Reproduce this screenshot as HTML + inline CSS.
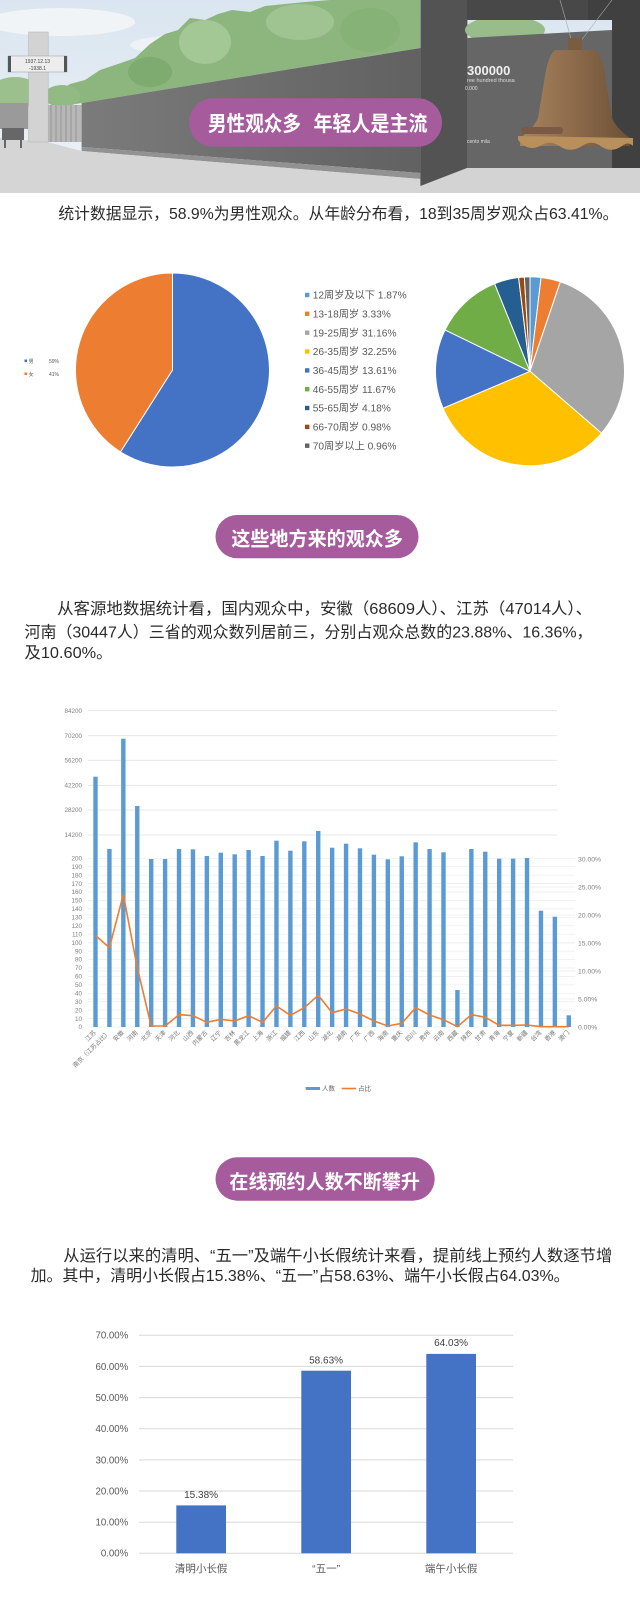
<!DOCTYPE html>
<html><head><meta charset="utf-8"><style>
html,body{margin:0;padding:0;background:#fff;}
svg{display:block;}
text{font-family:"Liberation Sans","Noto Sans CJK SC",sans-serif;}
</style></head><body>
<svg width="640" height="1600" viewBox="0 0 640 1600" xmlns="http://www.w3.org/2000/svg">
<defs>
<linearGradient id="sky" x1="0" y1="0" x2="0" y2="1"><stop offset="0" stop-color="#d9e5f0"/><stop offset="1" stop-color="#eef2f5"/></linearGradient>
<linearGradient id="wall" x1="0" y1="0" x2="1" y2="0"><stop offset="0" stop-color="#7b7b7b"/><stop offset="1" stop-color="#616161"/></linearGradient>
<linearGradient id="bell" x1="0" y1="0" x2="1" y2="0"><stop offset="0" stop-color="#a7845f"/><stop offset="0.5" stop-color="#8c6a4a"/><stop offset="1" stop-color="#6c5036"/></linearGradient>
</defs>
<rect width="640" height="1600" fill="#fff"/>

<!-- HEADER PHOTO -->
<rect x="0" y="0" width="640" height="193" fill="url(#sky)"/>
<ellipse cx="60" cy="22" rx="75" ry="14" fill="#f3f6f8" opacity="0.85"/>
<ellipse cx="190" cy="45" rx="60" ry="10" fill="#f1f4f7" opacity="0.8"/>
<polygon points="53,108 58,92 70,84 85,80 100,70 118,64 135,58 150,44 165,34 178,30 190,18 205,20 218,14 232,10 250,12 265,6 285,4 305,2 330,0 420,0 420,48 81.6,103" fill="#8db67e"/>
<ellipse cx="205" cy="42" rx="26" ry="22" fill="#a3c795"/>
<ellipse cx="300" cy="22" rx="34" ry="18" fill="#9fc391"/>
<ellipse cx="150" cy="72" rx="22" ry="15" fill="#7eab70"/>
<ellipse cx="370" cy="30" rx="30" ry="22" fill="#86b177"/>
<ellipse cx="15" cy="93" rx="26" ry="16" fill="#9cc08d"/>
<ellipse cx="62" cy="96" rx="18" ry="11" fill="#93ba85"/>
<rect x="0" y="103" width="28" height="26" fill="#9a9a9a"/>
<polygon points="81.6,103 420.4,48 420.4,173 81.6,147" fill="url(#wall)"/>
<rect x="47" y="105" width="34.6" height="37" fill="#b7b7b7"/>
<g stroke="#8e8e8e" stroke-width="0.8"><line x1="51" y1="105" x2="51" y2="142"/><line x1="56" y1="105" x2="56" y2="142"/><line x1="61" y1="105" x2="61" y2="142"/><line x1="66" y1="105" x2="66" y2="142"/><line x1="71" y1="105" x2="71" y2="142"/><line x1="76" y1="105" x2="76" y2="142"/></g>
<polygon points="81.6,147 420.4,173 420.4,179 81.6,151" fill="#929292"/>
<polygon points="0,138 47,142 81.6,151 420.4,179 420.4,193 0,193" fill="#d5d5d5"/>
<rect x="2" y="128" width="22" height="12" fill="#676767"/>
<rect x="4" y="140" width="2" height="8" fill="#676767"/><rect x="20" y="140" width="2" height="8" fill="#676767"/>
<rect x="28.6" y="32" width="19.6" height="110" fill="#d3d3d3" stroke="#b0b0b0" stroke-width="0.5"/>
<rect x="8" y="56" width="59" height="16" fill="#ededed" stroke="#999" stroke-width="0.5"/>
<rect x="8" y="56" width="3" height="16" fill="#555"/><rect x="64" y="56" width="3" height="16" fill="#555"/>
<text x="37.5" y="63" font-size="5" fill="#444" text-anchor="middle">1937.12.13</text>
<text x="37.5" y="70" font-size="5" fill="#444" text-anchor="middle">-1938.1</text>
<rect x="420.4" y="0" width="47" height="186" fill="#535353"/>
<ellipse cx="505" cy="30" rx="40" ry="14" fill="#98bd8a"/>
<rect x="467" y="0" width="125" height="20" fill="#484848"/>
<polygon points="467,38 612,30 612,168 467,170" fill="#666"/>
<rect x="612" y="0" width="28" height="170" fill="#404040"/>
<rect x="588" y="0" width="24" height="20" fill="#404040"/>
<polygon points="420.4,186 467,168 640,168 640,193 420.4,193" fill="#d3d3d3"/>
<line x1="560" y1="0" x2="572" y2="42" stroke="#aaa" stroke-width="0.6"/>
<line x1="612" y1="0" x2="580" y2="42" stroke="#aaa" stroke-width="0.6"/>
<rect x="568" y="38" width="14" height="14" fill="#7a5c40"/>
<path d="M556,50 L594,50 Q600,52 604,70 L612,118 Q616,128 630,138 L630,146 L520,146 L520,138 Q534,128 538,118 L546,70 Q550,52 556,50 Z" fill="url(#bell)"/>
<path d="M518,140 Q528,152 540,146 Q550,139 561,147 Q571,153 582,146 Q592,139 602,147 Q612,153 622,146 Q628,141 633,146 L633,138 L518,136 Z" fill="#b98f5c"/>
<rect x="521" y="127" width="42" height="7" rx="3" fill="#7b5a45"/>
<text x="467" y="75" font-size="13" font-weight="bold" fill="#efefef">300000</text>
<text x="467" y="82" font-size="5.5" fill="#ddd">ree hundred  thousa</text>
<text x="465" y="90" font-size="5" fill="#ddd">0.000</text>
<text x="467" y="143" font-size="5" fill="#ddd">cento mila</text>

<!-- PILL 1 -->
<rect x="189" y="98.3" width="253" height="48.4" rx="24.2" fill="#a65b9d"/>
<text x="208" y="131" font-size="21" font-weight="bold" fill="#fff" textLength="93" lengthAdjust="spacingAndGlyphs">男性观众多</text>
<text x="313.5" y="131" font-size="21" font-weight="bold" fill="#fff" textLength="114" lengthAdjust="spacingAndGlyphs">年轻人是主流</text>

<text x="58.4" y="219" font-size="16" fill="#2a2a2a" textLength="560" lengthAdjust="spacingAndGlyphs">统计数据显示，58.9%为男性观众。从年龄分布看，18到35周岁观众占63.41%。</text>

<!-- PIE 1 -->
<g stroke="#fff" stroke-width="1" stroke-linejoin="round">
<path d="M172.5,370 L172.5,273 A97,97 0 1 1 120.5,451.9 Z" fill="#4472C4"/>
<path d="M172.5,370 L120.5,451.9 A97,97 0 0 1 172.5,273 Z" fill="#ED7D31"/>
</g>
<rect x="24.5" y="359.5" width="2.6" height="2.6" fill="#4472C4"/>
<text x="28.6" y="362.8" font-size="5" fill="#555">男</text><text x="49" y="362.8" font-size="5" fill="#555">59%</text>
<rect x="24.5" y="372.5" width="2.6" height="2.6" fill="#ED7D31"/>
<text x="28.6" y="375.8" font-size="5" fill="#555">女</text><text x="49" y="375.8" font-size="5" fill="#555">41%</text>

<!-- PIE 2 legend -->
<g font-size="10.2" fill="#595959">
<rect x="305" y="292.8" width="4.4" height="4.4" fill="#5B9BD5"/><text x="312.7" y="298.6">12周岁及以下  1.87%</text>
<rect x="305" y="311.6" width="4.4" height="4.4" fill="#ED7D31"/><text x="312.7" y="317.4">13-18周岁  3.33%</text>
<rect x="305" y="330.5" width="4.4" height="4.4" fill="#A5A5A5"/><text x="312.7" y="336.3">19-25周岁  31.16%</text>
<rect x="305" y="349.3" width="4.4" height="4.4" fill="#FFC000"/><text x="312.7" y="355.1">26-35周岁  32.25%</text>
<rect x="305" y="368.2" width="4.4" height="4.4" fill="#4472C4"/><text x="312.7" y="374">36-45周岁  13.61%</text>
<rect x="305" y="387" width="4.4" height="4.4" fill="#70AD47"/><text x="312.7" y="392.8">46-55周岁  11.67%</text>
<rect x="305" y="405.8" width="4.4" height="4.4" fill="#255E91"/><text x="312.7" y="411.6">55-65周岁  4.18%</text>
<rect x="305" y="424.7" width="4.4" height="4.4" fill="#9E480E"/><text x="312.7" y="430.5">66-70周岁  0.98%</text>
<rect x="305" y="443.5" width="4.4" height="4.4" fill="#636363"/><text x="312.7" y="449.3">70周岁以上  0.96%</text>
</g>
<!-- PIE 2 -->
<g stroke="#fff" stroke-width="1" stroke-linejoin="round">
<path d="M530,371.3 L530,276.8 A94.5,94.5 0 0 1 541.08,277.45 Z" fill="#5B9BD5"/>
<path d="M530,371.3 L541.08,277.45 A94.5,94.5 0 0 1 560.33,281.8 Z" fill="#ED7D31"/>
<path d="M530,371.3 L560.33,281.8 A94.5,94.5 0 0 1 601.44,433.16 Z" fill="#A5A5A5"/>
<path d="M530,371.3 L601.44,433.16 A94.5,94.5 0 0 1 443.02,408.23 Z" fill="#FFC000"/>
<path d="M530,371.3 L443.02,408.23 A94.5,94.5 0 0 1 445.05,329.89 Z" fill="#4472C4"/>
<path d="M530,371.3 L445.05,329.89 A94.5,94.5 0 0 1 494.61,283.68 Z" fill="#70AD47"/>
<path d="M530,371.3 L494.61,283.68 A94.5,94.5 0 0 1 518.57,277.49 Z" fill="#255E91"/>
<path d="M530,371.3 L518.57,277.49 A94.5,94.5 0 0 1 524.36,276.97 Z" fill="#9E480E"/>
<path d="M530,371.3 L524.36,276.97 A94.5,94.5 0 0 1 530,276.8 Z" fill="#636363"/>
</g>

<!-- PILL 2 -->
<rect x="215.5" y="515" width="203" height="43.3" rx="21.65" fill="#a65b9d"/>
<text x="231.4" y="545.4" font-size="19.5" font-weight="bold" fill="#fff" textLength="171.5" lengthAdjust="spacingAndGlyphs">这些地方来的观众多</text>

<g font-size="16" fill="#2a2a2a">
<text x="57.1" y="614" textLength="535" lengthAdjust="spacingAndGlyphs">从客源地数据统计看，国内观众中，安徽（68609人）、江苏（47014人）、</text>
<text x="24.5" y="637.7" textLength="568" lengthAdjust="spacingAndGlyphs">河南（30447人）三省的观众数列居前三，分别占观众总数的23.88%、16.36%，</text>
<text x="24.5" y="658" textLength="88" lengthAdjust="spacingAndGlyphs">及10.60%。</text>
</g>

<!-- BAR CHART -->
<g stroke="#e3e3e3" stroke-width="0.8">
<line x1="88" y1="710.7" x2="557" y2="710.7"/><line x1="88" y1="735.7" x2="557" y2="735.7"/><line x1="88" y1="760.3" x2="557" y2="760.3"/><line x1="88" y1="785.3" x2="557" y2="785.3"/><line x1="88" y1="810" x2="557" y2="810"/><line x1="88" y1="835" x2="557" y2="835"/>
</g>
<g stroke="#ececec" stroke-width="0.7">
<line x1="88" y1="858.3" x2="575" y2="858.3"/><line x1="88" y1="866.7" x2="575" y2="866.7"/><line x1="88" y1="875.2" x2="575" y2="875.2"/><line x1="88" y1="883.6" x2="575" y2="883.6"/><line x1="88" y1="892" x2="575" y2="892"/><line x1="88" y1="900.5" x2="575" y2="900.5"/><line x1="88" y1="908.9" x2="575" y2="908.9"/><line x1="88" y1="917.3" x2="575" y2="917.3"/><line x1="88" y1="925.8" x2="575" y2="925.8"/><line x1="88" y1="934.2" x2="575" y2="934.2"/><line x1="88" y1="942.7" x2="575" y2="942.7"/><line x1="88" y1="951.1" x2="575" y2="951.1"/><line x1="88" y1="959.5" x2="575" y2="959.5"/><line x1="88" y1="968" x2="575" y2="968"/><line x1="88" y1="976.4" x2="575" y2="976.4"/><line x1="88" y1="984.8" x2="575" y2="984.8"/><line x1="88" y1="993.3" x2="575" y2="993.3"/><line x1="88" y1="1001.7" x2="575" y2="1001.7"/><line x1="88" y1="1010.1" x2="575" y2="1010.1"/><line x1="88" y1="1018.6" x2="575" y2="1018.6"/><line x1="88" y1="1027" x2="575" y2="1027"/>
<line x1="88" y1="887" x2="575" y2="887"/><line x1="88" y1="915" x2="575" y2="915"/><line x1="88" y1="943" x2="575" y2="943"/><line x1="88" y1="971" x2="575" y2="971"/><line x1="88" y1="999" x2="575" y2="999"/>
</g>
<g font-size="6.3" fill="#808080" text-anchor="end">
<text x="82" y="712.9">84200</text><text x="82" y="737.9">70200</text><text x="82" y="762.5">56200</text><text x="82" y="787.5">42200</text><text x="82" y="812.2">28200</text><text x="82" y="837.2">14200</text>
<text x="82" y="860.5">200</text><text x="82" y="868.9">190</text><text x="82" y="877.4">180</text><text x="82" y="885.8">170</text><text x="82" y="894.2">160</text><text x="82" y="902.7">150</text><text x="82" y="911.1">140</text><text x="82" y="919.5">130</text><text x="82" y="928">120</text><text x="82" y="936.4">110</text><text x="82" y="944.9">100</text><text x="82" y="953.3">90</text><text x="82" y="961.7">80</text><text x="82" y="970.2">70</text><text x="82" y="978.6">60</text><text x="82" y="987">50</text><text x="82" y="995.5">40</text><text x="82" y="1003.9">30</text><text x="82" y="1012.3">20</text><text x="82" y="1020.8">10</text><text x="82" y="1029.2">0</text>
</g>
<g font-size="6.8" fill="#808080">
<text x="578" y="861.4">30.00%</text><text x="578" y="889.4">25.00%</text><text x="578" y="917.4">20.00%</text><text x="578" y="945.4">15.00%</text><text x="578" y="973.4">10.00%</text><text x="578" y="1001.4">5.00%</text><text x="578" y="1029.4">0.00%</text>
</g>
<g fill="#5B9BD5">
<rect x="93.3" y="776.7" width="4.4" height="250.3"/>
<rect x="107.22" y="849" width="4.4" height="178"/>
<rect x="121.14" y="738.7" width="4.4" height="288.3"/>
<rect x="135.06" y="806" width="4.4" height="221"/>
<rect x="148.98" y="859" width="4.4" height="168"/>
<rect x="162.9" y="859" width="4.4" height="168"/>
<rect x="176.82" y="849" width="4.4" height="178"/>
<rect x="190.74" y="849.3" width="4.4" height="177.7"/>
<rect x="204.66" y="856" width="4.4" height="171"/>
<rect x="218.58" y="852.7" width="4.4" height="174.3"/>
<rect x="232.5" y="854.3" width="4.4" height="172.7"/>
<rect x="246.42" y="850" width="4.4" height="177"/>
<rect x="260.34" y="856" width="4.4" height="171"/>
<rect x="274.26" y="840.7" width="4.4" height="186.3"/>
<rect x="288.18" y="850.7" width="4.4" height="176.3"/>
<rect x="302.1" y="841.3" width="4.4" height="185.7"/>
<rect x="316.02" y="831" width="4.4" height="196"/>
<rect x="329.94" y="847.7" width="4.4" height="179.3"/>
<rect x="343.86" y="843.7" width="4.4" height="183.3"/>
<rect x="357.78" y="848.3" width="4.4" height="178.7"/>
<rect x="371.7" y="854.7" width="4.4" height="172.3"/>
<rect x="385.62" y="859.3" width="4.4" height="167.7"/>
<rect x="399.54" y="856.3" width="4.4" height="170.7"/>
<rect x="413.46" y="842.3" width="4.4" height="184.7"/>
<rect x="427.38" y="849" width="4.4" height="178"/>
<rect x="441.3" y="852.3" width="4.4" height="174.7"/>
<rect x="455.22" y="990" width="4.4" height="37"/>
<rect x="469.14" y="849" width="4.4" height="178"/>
<rect x="483.06" y="851.7" width="4.4" height="175.3"/>
<rect x="496.98" y="858.7" width="4.4" height="168.3"/>
<rect x="510.9" y="858.7" width="4.4" height="168.3"/>
<rect x="524.82" y="858" width="4.4" height="169"/>
<rect x="538.74" y="910.7" width="4.4" height="116.3"/>
<rect x="552.66" y="916.7" width="4.4" height="110.3"/>
<rect x="566.58" y="1015.3" width="4.4" height="11.7"/>
</g>
<polyline fill="none" stroke="#ED7D31" stroke-width="1.6" stroke-linejoin="round" points="95.5,935.5 109.42,947.7 123.34,894.5 137.26,967.6 151.18,1026 165.1,1026 179.02,1014.7 192.94,1015.7 206.86,1022.3 220.78,1019.3 234.7,1021 248.62,1015.7 262.54,1022.3 276.46,1006 290.38,1015.3 304.3,1007.7 318.22,995.3 332.14,1012.7 346.06,1009 359.98,1014 373.9,1021 387.82,1026 401.74,1023.3 415.66,1007.7 429.58,1015 443.5,1019.7 457.42,1026.7 471.34,1014.7 485.26,1017.3 499.18,1025.3 513.1,1025.3 527.02,1025 540.94,1026.7 554.86,1026.7 568.78,1026.7"/>
<g font-size="6.2" fill="#777" text-anchor="end">
<text x="96.5" y="1033" transform="rotate(-45 96.5 1033)">江苏</text>
<text x="110.4" y="1033" transform="rotate(-45 110.4 1033)">南京（江苏占比）</text>
<text x="124.3" y="1033" transform="rotate(-45 124.3 1033)">安徽</text>
<text x="138.3" y="1033" transform="rotate(-45 138.3 1033)">河南</text>
<text x="152.2" y="1033" transform="rotate(-45 152.2 1033)">北京</text>
<text x="166.1" y="1033" transform="rotate(-45 166.1 1033)">天津</text>
<text x="180" y="1033" transform="rotate(-45 180 1033)">河北</text>
<text x="193.9" y="1033" transform="rotate(-45 193.9 1033)">山西</text>
<text x="207.9" y="1033" transform="rotate(-45 207.9 1033)">内蒙古</text>
<text x="221.8" y="1033" transform="rotate(-45 221.8 1033)">辽宁</text>
<text x="235.7" y="1033" transform="rotate(-45 235.7 1033)">吉林</text>
<text x="249.6" y="1033" transform="rotate(-45 249.6 1033)">黑龙江</text>
<text x="263.5" y="1033" transform="rotate(-45 263.5 1033)">上海</text>
<text x="277.5" y="1033" transform="rotate(-45 277.5 1033)">浙江</text>
<text x="291.4" y="1033" transform="rotate(-45 291.4 1033)">福建</text>
<text x="305.3" y="1033" transform="rotate(-45 305.3 1033)">江西</text>
<text x="319.2" y="1033" transform="rotate(-45 319.2 1033)">山东</text>
<text x="333.1" y="1033" transform="rotate(-45 333.1 1033)">湖北</text>
<text x="347.1" y="1033" transform="rotate(-45 347.1 1033)">湖南</text>
<text x="361" y="1033" transform="rotate(-45 361 1033)">广东</text>
<text x="374.9" y="1033" transform="rotate(-45 374.9 1033)">广西</text>
<text x="388.8" y="1033" transform="rotate(-45 388.8 1033)">海南</text>
<text x="402.7" y="1033" transform="rotate(-45 402.7 1033)">重庆</text>
<text x="416.7" y="1033" transform="rotate(-45 416.7 1033)">四川</text>
<text x="430.6" y="1033" transform="rotate(-45 430.6 1033)">贵州</text>
<text x="444.5" y="1033" transform="rotate(-45 444.5 1033)">云南</text>
<text x="458.4" y="1033" transform="rotate(-45 458.4 1033)">西藏</text>
<text x="472.3" y="1033" transform="rotate(-45 472.3 1033)">陕西</text>
<text x="486.3" y="1033" transform="rotate(-45 486.3 1033)">甘肃</text>
<text x="500.2" y="1033" transform="rotate(-45 500.2 1033)">青海</text>
<text x="514.1" y="1033" transform="rotate(-45 514.1 1033)">宁夏</text>
<text x="528" y="1033" transform="rotate(-45 528 1033)">新疆</text>
<text x="541.9" y="1033" transform="rotate(-45 541.9 1033)">台湾</text>
<text x="555.9" y="1033" transform="rotate(-45 555.9 1033)">香港</text>
<text x="569.8" y="1033" transform="rotate(-45 569.8 1033)">澳门</text>
</g>
<rect x="305.7" y="1087" width="14.3" height="3" fill="#5B9BD5"/>
<text x="322" y="1090.7" font-size="6.5" fill="#666">人数</text>
<line x1="341.7" y1="1088.5" x2="356" y2="1088.5" stroke="#ED7D31" stroke-width="1.6"/>
<text x="358" y="1090.7" font-size="6.5" fill="#666">占比</text>

<!-- PILL 3 -->
<rect x="215.5" y="1157.3" width="219.2" height="43.4" rx="21.7" fill="#a65b9d"/>
<text x="229.4" y="1188.4" font-size="19.5" font-weight="bold" fill="#fff" textLength="190.5" lengthAdjust="spacingAndGlyphs">在线预约人数不断攀升</text>

<g font-size="16" fill="#2a2a2a">
<text x="63.3" y="1261" textLength="549" lengthAdjust="spacingAndGlyphs">从运行以来的清明、“五一”及端午小长假统计来看，提前线上预约人数逐节增</text>
<text x="30.6" y="1281" textLength="539" lengthAdjust="spacingAndGlyphs">加。其中，清明小长假占15.38%、“五一”占58.63%、端午小长假占64.03%。</text>
</g>

<!-- LAST CHART -->
<g stroke="#d9d9d9" stroke-width="1">
<line x1="139" y1="1335.3" x2="513.3" y2="1335.3"/><line x1="139" y1="1366.4" x2="513.3" y2="1366.4"/><line x1="139" y1="1397.6" x2="513.3" y2="1397.6"/><line x1="139" y1="1428.7" x2="513.3" y2="1428.7"/><line x1="139" y1="1459.9" x2="513.3" y2="1459.9"/><line x1="139" y1="1491" x2="513.3" y2="1491"/><line x1="139" y1="1522.2" x2="513.3" y2="1522.2"/><line x1="139" y1="1553.3" x2="513.3" y2="1553.3"/>
</g>
<g font-size="9.7" fill="#595959" text-anchor="end">
<text x="128.3" y="1338.7">70.00%</text><text x="128.3" y="1369.8">60.00%</text><text x="128.3" y="1401">50.00%</text><text x="128.3" y="1432.1">40.00%</text><text x="128.3" y="1463.3">30.00%</text><text x="128.3" y="1494.4">20.00%</text><text x="128.3" y="1525.6">10.00%</text><text x="128.3" y="1556.7">0.00%</text>
</g>
<g fill="#4472C4">
<rect x="176.3" y="1505.4" width="49.7" height="47.9"/>
<rect x="301.3" y="1370.7" width="49.7" height="182.6"/>
<rect x="426.3" y="1353.9" width="49.7" height="199.4"/>
</g>
<g font-size="10" fill="#404040" text-anchor="middle">
<text x="201.1" y="1497.8">15.38%</text><text x="326.1" y="1363.5">58.63%</text><text x="451.1" y="1346.2">64.03%</text>
</g>
<g font-size="10.5" fill="#595959" text-anchor="middle">
<text x="201.1" y="1572">清明小长假</text><text x="326.1" y="1572">“五一”</text><text x="451.1" y="1572">端午小长假</text>
</g>
</svg>
</body></html>
